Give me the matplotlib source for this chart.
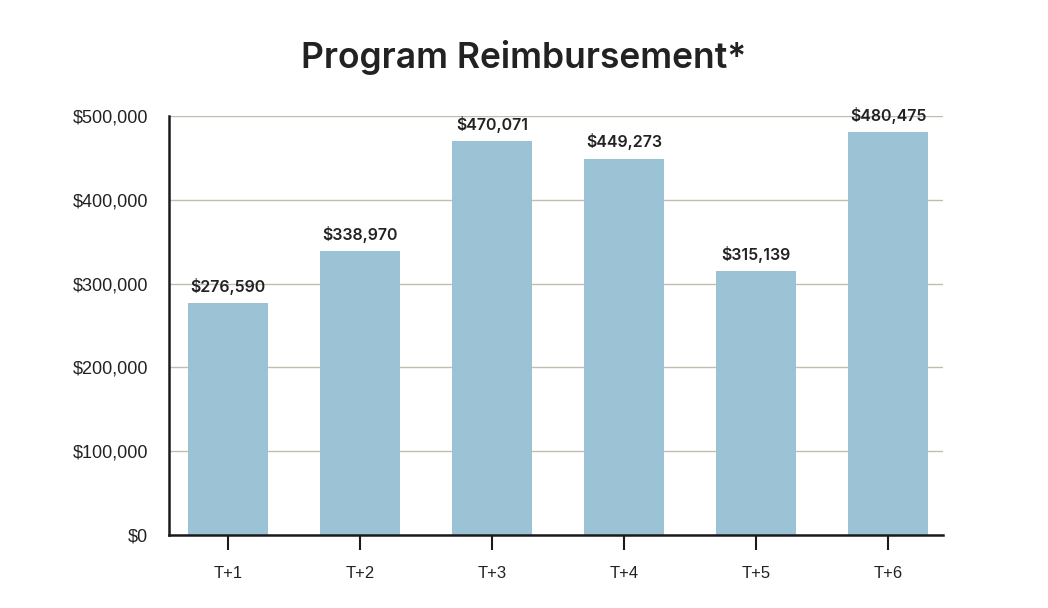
import matplotlib.pyplot as plt
from matplotlib.ticker import FuncFormatter, MultipleLocator

periods = ['T+1', 'T+2', 'T+3', 'T+4', 'T+5', 'T+6']
reimbursement = [276590, 338970, 470071, 449273, 315139, 480475]

fig = plt.figure(figsize=(10.48, 6.08), dpi=100)
ax = fig.add_axes([0.1613, 0.1201, 0.7385, 0.6891])

index = list(range(len(periods)))
ax.bar(index, reimbursement, width=0.606, color='#9cc3d5', zorder=2)

ax.set_xlim(-0.447, len(periods) - 1 + 0.417)
ax.set_ylim(0, 500000)
ax.yaxis.set_major_locator(MultipleLocator(100000))
ax.yaxis.set_major_formatter(FuncFormatter(lambda v, p: '${:,.0f}'.format(v)))
ax.grid(axis='y', color='#bdbdb0', linewidth=1, zorder=0)
ax.set_axisbelow(True)

for s in ['top', 'right']:
    ax.spines[s].set_visible(False)
for s in ['left', 'bottom']:
    ax.spines[s].set_linewidth(1.8)
    ax.spines[s].set_color('#1a1a1a')

ax.set_xticks(index)
ax.set_xticklabels(periods, fontsize=12, family=['Liberation Sans', 'DejaVu Sans'], color='#222222')
ax.tick_params(axis='x', direction='out', length=11, width=1.5, color='#1a1a1a', pad=11)
# short inward part of the x ticks
ax.xaxis.remove_overlapping_locs = False
ax.set_xticks(index, minor=True)
ax.tick_params(axis='x', which='minor', direction='in', length=4, width=1.5, color='#1a1a1a')
ax.tick_params(axis='y', length=0, pad=15, labelsize=13, labelcolor='#222222')
for lab in ax.get_yticklabels():
    lab.set_family(['Liberation Sans', 'DejaVu Sans'])

for a, b in zip(index, reimbursement):
    ax.annotate('${:,}'.format(b), (a, b), xytext=(0, 6), textcoords='offset points',
                ha='center', va='bottom', fontsize=11.5, fontweight='semibold',
                family=['Inter', 'DejaVu Sans'], color='#222222')

fig.text(0.5, 0.905, 'Program Reimbursement*', ha='center', va='center', fontsize=25.5,
         fontweight='semibold', family=['Inter', 'DejaVu Sans'], color='#222222')

plt.savefig('out.png', dpi=100)
